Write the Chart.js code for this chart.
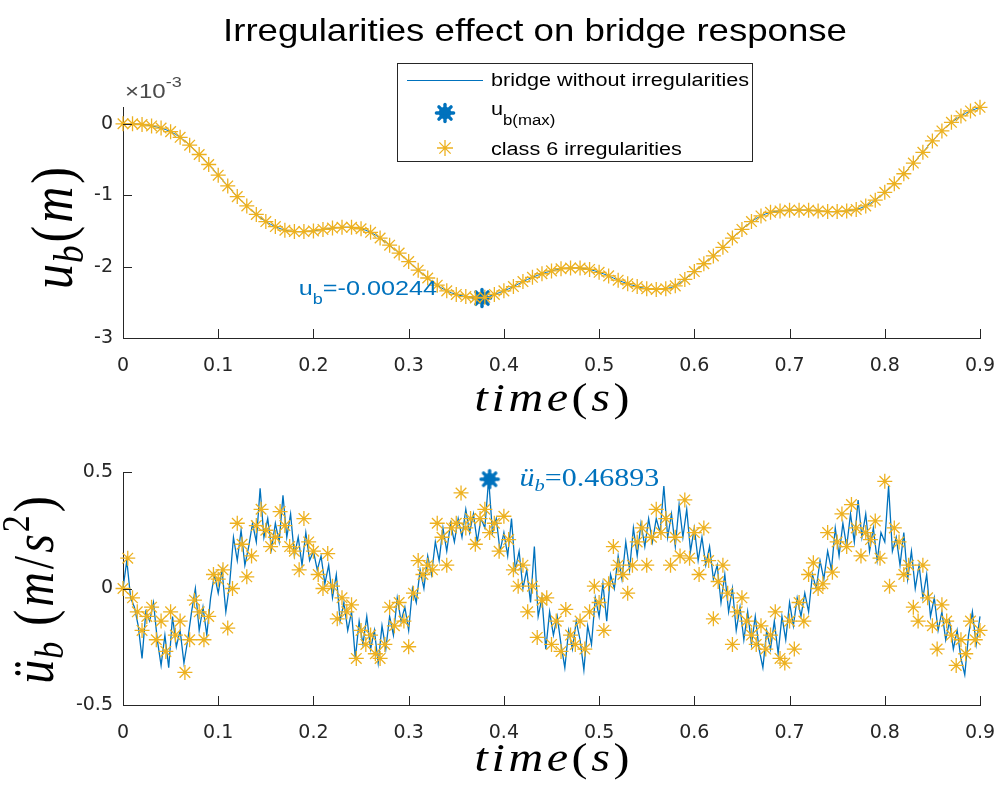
<!DOCTYPE html>
<html><head><meta charset="utf-8">
<script src="https://cdn.jsdelivr.net/npm/chart.js@4.4.0/dist/chart.umd.min.js"></script>
<style>
html,body{margin:0;padding:0;background:#fff;}
#w1{position:absolute;left:0;top:0;width:1005px;height:440px;}
#w2{position:absolute;left:0;top:440px;width:1005px;height:360px;}
</style></head><body>
<div id="w1"><canvas id="c1"></canvas></div>
<div id="w2"><canvas id="c2"></canvas></div>
<script>
// ---------- data ----------
const TOP_TIME_STEP = 0.01;     // s
const BOT_LINE_STEP = 0.004;    // s
const BOT_STAR_STEP = 0.005;    // s
const xTickValues = [0,0.1,0.2,0.3,0.4,0.5,0.6,0.7,0.8,0.9];
const topYTicks = [-3,-2,-1,0];
const botYTicks = [-0.5,0,0.5];

// bridge displacement u_b (x 10^-3 m)
const dispBridge = [
 0,0,-0.01,-0.03,-0.06,-0.11,-0.19,-0.30,-0.43,-0.57,
 -0.72,-0.87,-1.02,-1.15,-1.27,-1.37,-1.44,-1.49,-1.51,-1.51,
 -1.50,-1.48,-1.46,-1.45,-1.45,-1.47,-1.52,-1.60,-1.70,-1.81,
 -1.93,-2.05,-2.16,-2.26,-2.34,-2.39,-2.42,-2.44,-2.43,-2.39,
 -2.34,-2.28,-2.21,-2.15,-2.10,-2.06,-2.03,-2.02,-2.02,-2.04,
 -2.08,-2.13,-2.19,-2.24,-2.28,-2.31,-2.32,-2.31,-2.27,-2.18,
 -2.07,-1.96,-1.85,-1.73,-1.60,-1.48,-1.37,-1.29,-1.24,-1.22,
 -1.21,-1.21,-1.21,-1.22,-1.23,-1.23,-1.22,-1.20,-1.15,-1.07,
 -0.96,-0.84,-0.70,-0.55,-0.40,-0.24,-0.10,0.02,0.11,0.18,
 0.23];
const dispClass6 = [
 0,0,-0.01,-0.03,-0.06,-0.11,-0.19,-0.30,-0.43,-0.57,
 -0.72,-0.87,-1.02,-1.15,-1.27,-1.37,-1.44,-1.49,-1.51,-1.51,
 -1.50,-1.48,-1.46,-1.45,-1.45,-1.47,-1.52,-1.60,-1.70,-1.81,
 -1.93,-2.05,-2.16,-2.26,-2.34,-2.39,-2.42,-2.44,-2.43,-2.39,
 -2.34,-2.28,-2.21,-2.15,-2.10,-2.06,-2.03,-2.02,-2.02,-2.04,
 -2.08,-2.13,-2.19,-2.24,-2.28,-2.31,-2.32,-2.31,-2.27,-2.18,
 -2.07,-1.96,-1.85,-1.73,-1.60,-1.48,-1.37,-1.29,-1.24,-1.22,
 -1.21,-1.21,-1.21,-1.22,-1.23,-1.23,-1.22,-1.20,-1.15,-1.07,
 -0.96,-0.84,-0.70,-0.55,-0.40,-0.24,-0.10,0.02,0.11,0.18,
 0.23];
const ubMaxTime = 0.377;
const ubMaxValue = -2.44;      // x 10^-3 m
const ubMaxLabel = '-0.00244';

// bridge acceleration (m/s^2), without irregularities
const accBridge = [
 0.00,0.12,-0.04,-0.08,-0.16,-0.30,-0.10,-0.14,-0.06,-0.22,-0.33,-0.20,-0.34,-0.12,-0.25,-0.18,-0.32,-0.22,-0.10,0.00,-0.18,-0.08,-0.20,-0.04,0.06,
 -0.02,0.08,-0.10,0.02,0.22,0.12,0.25,0.10,0.18,0.28,0.20,0.43,0.22,0.30,0.17,0.28,0.20,0.40,0.22,0.32,0.14,0.22,0.10,0.24,0.12,
 0.16,0.08,0.14,0.02,0.10,-0.04,0.06,-0.14,-0.06,-0.18,-0.10,-0.30,-0.14,-0.24,-0.12,-0.26,-0.18,-0.32,-0.16,-0.26,-0.12,-0.20,-0.04,-0.14,-0.08,
 -0.18,0.00,-0.06,0.08,0.00,0.14,0.06,0.20,0.12,0.26,0.16,0.28,0.20,0.30,0.22,0.34,0.24,0.32,0.20,0.30,0.26,0.47,0.24,0.30,0.16,
 0.24,0.14,0.30,0.08,0.16,0.00,0.08,-0.06,0.18,-0.12,-0.04,-0.26,-0.10,-0.20,-0.12,-0.24,-0.34,-0.18,-0.26,-0.14,-0.22,-0.35,-0.16,-0.24,-0.04,
 -0.12,0.02,-0.14,0.06,0.00,0.14,0.04,0.20,0.08,0.26,0.14,0.28,0.18,0.30,0.20,0.30,0.24,0.44,0.22,0.32,0.18,0.36,0.22,0.34,0.16,
 0.26,0.12,0.22,0.10,0.18,0.04,0.10,-0.06,0.06,-0.10,0.00,-0.18,-0.08,-0.22,-0.10,-0.24,-0.12,-0.26,-0.34,-0.18,-0.26,-0.14,-0.28,-0.12,-0.22,
 -0.06,-0.16,-0.04,-0.12,-0.02,-0.10,0.06,0.00,0.12,0.04,0.16,0.08,0.26,0.14,0.28,0.18,0.32,0.20,0.38,0.22,0.32,0.16,0.26,0.12,0.24,
 0.20,0.44,0.16,0.22,0.10,0.24,0.04,0.16,0.00,0.10,-0.04,0.06,-0.12,-0.04,-0.18,-0.10,-0.22,-0.14,-0.26,-0.18,-0.30,-0.37,-0.20,-0.10,-0.24,
 -0.12];
// bridge acceleration (m/s^2), class 6 irregularities
const accClass6 = [
 0.00,0.13,-0.04,-0.10,-0.18,-0.12,-0.08,-0.22,-0.14,-0.27,-0.10,-0.20,-0.14,-0.36,-0.22,-0.05,-0.10,-0.22,-0.12,0.06,
 0.04,0.08,-0.17,0.00,0.28,0.19,0.05,0.14,0.27,0.34,0.25,0.18,0.22,0.33,0.27,0.18,0.16,0.08,0.30,0.20,
 0.16,0.06,0.00,0.15,0.01,-0.13,-0.04,-0.10,-0.07,-0.30,-0.18,-0.24,-0.20,-0.28,-0.30,-0.24,-0.08,-0.16,-0.06,-0.14,
 -0.25,-0.02,0.12,0.06,0.10,0.08,0.28,0.22,0.10,0.26,0.28,0.41,0.26,0.30,0.19,0.30,0.34,0.24,0.28,0.16,
 0.31,0.21,0.08,0.01,0.10,-0.10,0.01,-0.21,-0.05,-0.04,-0.24,-0.14,-0.27,-0.09,-0.20,-0.24,-0.14,-0.26,-0.10,0.01,
 -0.06,-0.18,0.02,0.18,0.10,0.06,-0.02,0.10,0.20,0.26,0.10,0.22,0.34,0.24,0.30,0.10,0.22,0.14,0.38,0.13,
 0.24,0.06,0.26,0.12,-0.13,0.03,0.10,-0.02,-0.24,-0.10,-0.04,-0.14,-0.20,-0.24,-0.16,-0.26,-0.20,-0.10,-0.30,-0.32,
 -0.14,-0.26,-0.06,-0.14,0.06,0.11,0.00,0.02,0.24,0.07,0.20,0.32,0.18,0.36,0.26,0.14,0.24,0.21,0.29,0.13,
 0.46,0.01,0.26,0.20,0.06,0.10,-0.08,-0.14,0.10,-0.04,-0.16,-0.26,-0.07,-0.14,-0.20,-0.33,-0.22,-0.28,-0.14,-0.22,
 -0.18];
const accMaxTime = 0.385;
const accMaxValue = 0.46893;
const accMaxLabel = '0.46893';

const legendLabels = ['bridge without irregularities', 'u', 'class 6 irregularities'];
const chartTitle = 'Irregularities effect on bridge response';

// ---------- styles ----------
const BLUE = '#0072BD', ORANGE = '#EDB120', AXIS = '#262626';
const SANS = '"Liberation Sans", Arial, sans-serif';
const SERIF = '"Liberation Serif", "Times New Roman", serif';
const TICKFONT = {family: '"DejaVu Sans", sans-serif', size: 19};
const STRETCH = 1.2;

function pts(step, arr){ return arr.map((v,i)=>({x: Math.round(i*step*10000)/10000, y: v})); }

// filled asterisk marker for maxima
const maxMarker = document.createElement('canvas');
maxMarker.width = 22; maxMarker.height = 22;
(function(){
  const c = maxMarker.getContext('2d');
  c.fillStyle = BLUE; c.strokeStyle = BLUE; c.lineWidth = 3.4; c.lineCap = 'round';
  c.beginPath(); c.arc(11,11,6.2,0,Math.PI*2); c.fill();
  for(let k=0;k<8;k++){const a=k*Math.PI/4; c.beginPath(); c.moveTo(11,11); c.lineTo(11+8.6*Math.cos(a),11+8.6*Math.sin(a)); c.stroke();}
})();

function segWidth(ctx, segs){let w=0;for(const s of segs){ctx.font=s.font;w+=ctx.measureText(s.text).width+(s.gap||0);}return w;}
function drawSegs(ctx, segs, x, y, align){
  const w=segWidth(ctx,segs); let cx= align==='center'?x-w/2:(align==='right'?x-w:x);
  for(const s of segs){ctx.font=s.font; ctx.fillText(s.text,cx,y+(s.dy||0)); cx+=ctx.measureText(s.text).width+(s.gap||0);}
}
function drawStretched(ctx, segs, x, y, align, color){
  ctx.save(); ctx.fillStyle=color; ctx.textBaseline='alphabetic'; ctx.textAlign='left';
  ctx.translate(x,y); ctx.scale(STRETCH,1); drawSegs(ctx,segs,0,0,align); ctx.restore();
}
function drawRotated(ctx, segs, x, y, color){
  ctx.save(); ctx.fillStyle=color; ctx.textBaseline='alphabetic'; ctx.textAlign='left';
  ctx.translate(x,y); ctx.scale(STRETCH,1); ctx.rotate(-Math.PI/2); drawSegs(ctx,segs,0,0,'center'); ctx.restore();
}
function inwardTicks(chart){
  const ctx=chart.ctx, xs=chart.scales.x, ys=chart.scales.y;
  ctx.save(); ctx.strokeStyle=AXIS; ctx.lineWidth=1;
  xs.ticks.forEach(t=>{const p=Math.round(xs.getPixelForValue(t.value))+0.5; ctx.beginPath(); ctx.moveTo(p,ys.bottom); ctx.lineTo(p,ys.bottom-9); ctx.stroke();});
  ys.ticks.forEach(t=>{const p=Math.round(ys.getPixelForValue(t.value))+0.5; ctx.beginPath(); ctx.moveTo(xs.left,p); ctx.lineTo(xs.left+9,p); ctx.stroke();});
  ctx.restore();
}
function timeTitle(ctx, cx, baseline){
  const fi='italic 40px '+SERIF, fr='40px '+SERIF, g=3;
  drawStretched(ctx,[
    {text:'t',font:fi,gap:g},{text:'i',font:fi,gap:g},{text:'m',font:fi,gap:g},{text:'e',font:fi,gap:g},
    {text:'(',font:fr,gap:g},{text:'s',font:fi,gap:g},{text:')',font:fr}], cx, baseline, 'center', '#000');
}

const xScale = (h) => ({
  type:'linear', min:0, max:0.9,
  grid:{display:true, drawOnChartArea:false, drawTicks:true, tickLength:15, tickColor:'rgba(0,0,0,0)'},
  border:{display:true, color:AXIS, width:1},
  ticks:{font:TICKFONT, color:AXIS, padding:2, maxRotation:0, autoSkip:false,
         callback:(v)=>String(Number(Number(v).toFixed(1)))},
  afterBuildTicks:(s)=>{s.ticks = xTickValues.map(v=>({value:v}));},
  afterFit:(s)=>{s.height=h;}
});
const yScale = (min,max,ticks) => ({
  type:'linear', min:min, max:max,
  grid:{display:true, drawOnChartArea:false, drawTicks:false},
  border:{display:true, color:AXIS, width:1},
  ticks:{font:TICKFONT, color:AXIS, padding:10,
         callback:(v)=>String(Number(Number(v).toFixed(1)))},
  afterBuildTicks:(s)=>{s.ticks = ticks.map(v=>({value:v}));},
  afterFit:(s)=>{s.width=123;}
});

// ---------- top chart ----------
const topPlugin = {
  id:'topDecor',
  afterDatasetsDraw(chart){
    const ctx=chart.ctx, xs=chart.scales.x, ys=chart.scales.y;
    inwardTicks(chart);
    // title
    drawStretched(ctx,[{text:chartTitle,font:'30.5px '+SANS}],535,41,'center','#000');
    // exponent label
    drawStretched(ctx,[{text:'\u00d710',font:'20px '+SANS},{text:'-3',font:'15px '+SANS,dy:-11}],125,98,'left','#4a4a4a');
    // y title
    const fi='italic 50px '+SERIF, fr='50px '+SERIF, g=3;
    drawRotated(ctx,[{text:'u',font:fi,gap:1},{text:'b',font:'italic 35px '+SERIF,dy:9,gap:g},
      {text:'(',font:fr,gap:g},{text:'m',font:fi,gap:g},{text:')',font:fr}], 72, 228, '#000');
    timeTitle(ctx, 552, 411);
    // annotation
    const mx=xs.getPixelForValue(ubMaxTime), my=ys.getPixelForValue(ubMaxValue);
    drawStretched(ctx,[{text:'u',font:'21px '+SANS},{text:'b',font:'15px '+SANS,dy:9},{text:'='+ubMaxLabel,font:'21px '+SANS}], mx-45, my-3, 'right', BLUE);
    // legend
    ctx.save();
    ctx.fillStyle='#fff'; ctx.fillRect(397,63,356,99);
    ctx.strokeStyle=AXIS; ctx.lineWidth=1; ctx.strokeRect(397.5,63.5,355,98);
    ctx.strokeStyle=BLUE; ctx.lineWidth=1.2; ctx.beginPath(); ctx.moveTo(407,80.5); ctx.lineTo(483,80.5); ctx.stroke();
    ctx.drawImage(maxMarker, 445-11, 113-11);
    ctx.strokeStyle=ORANGE; ctx.lineWidth=1.3;
    Chart.helpers.drawPoint(ctx,{pointStyle:'star',radius:8,borderWidth:1.3,rotation:0},445,148);
    ctx.restore();
    drawStretched(ctx,[{text:legendLabels[0],font:'18px '+SANS}],491,86,'left','#000');
    drawStretched(ctx,[{text:legendLabels[1],font:'18px '+SANS},{text:'b(max)',font:'14px '+SANS,dy:10}],491,115,'left','#000');
    drawStretched(ctx,[{text:legendLabels[2],font:'18px '+SANS}],491,155,'left','#000');
  }
};

new Chart(document.getElementById('c1'), {
  type:'line',
  data:{datasets:[
    {label:legendLabels[0], data:pts(TOP_TIME_STEP,dispBridge), borderColor:BLUE, borderWidth:1, pointRadius:0, tension:0.3, order:3},
    {label:'u_b(max)', data:[{x:ubMaxTime,y:ubMaxValue}], showLine:false, pointStyle:maxMarker, pointRadius:10, order:2},
    {label:legendLabels[2], data:pts(TOP_TIME_STEP,dispClass6), showLine:false, pointStyle:'star', pointRadius:7.5,
     pointBorderColor:ORANGE, pointBackgroundColor:ORANGE, pointBorderWidth:1.3, order:1}
  ]},
  options:{
    responsive:true, maintainAspectRatio:false, animation:false, clip:false,
    layout:{padding:{left:0,right:25,top:107,bottom:0}},
    plugins:{legend:{display:false}, tooltip:{enabled:false}, title:{display:false, text:chartTitle}},
    scales:{x:xScale(102), y:yScale(-3,0.235,topYTicks)}
  },
  plugins:[topPlugin]
});

// ---------- bottom chart ----------
const botPlugin = {
  id:'botDecor',
  afterDatasetsDraw(chart){
    const ctx=chart.ctx, xs=chart.scales.x, ys=chart.scales.y;
    inwardTicks(chart);
    const fi='italic 48px '+SERIF, fr='48px '+SERIF, g=3;
    drawRotated(ctx,[{text:'\u00fc',font:fi,gap:1},{text:'b',font:'italic 34px '+SERIF,dy:8,gap:16},
      {text:'(',font:fr,gap:g},{text:'m',font:fi,gap:g},{text:'/',font:fr,gap:g},{text:'s',font:fi,gap:2},
      {text:'2',font:'34px '+SERIF,dy:-20,gap:g},{text:')',font:fr}], 53, 150, '#000');
    timeTitle(ctx, 552, 331);
    const mx=xs.getPixelForValue(accMaxTime), my=ys.getPixelForValue(accMaxValue);
    drawStretched(ctx,[{text:'\u00fc',font:'italic 25px '+SERIF},{text:'b',font:'italic 17px '+SERIF,dy:5},
      {text:'='+accMaxLabel,font:'25px '+SERIF}], mx+30, my+7, 'left', BLUE);
  }
};

new Chart(document.getElementById('c2'), {
  type:'line',
  data:{datasets:[
    {label:'bridge without irregularities', data:pts(BOT_LINE_STEP,accBridge), borderColor:BLUE, borderWidth:1.3, pointRadius:0, tension:0, order:3},
    {label:'acc max', data:[{x:accMaxTime,y:accMaxValue}], showLine:false, pointStyle:maxMarker, pointRadius:10, order:2},
    {label:'class 6 irregularities', data:pts(BOT_STAR_STEP,accClass6), showLine:false, pointStyle:'star', pointRadius:7.5,
     pointBorderColor:ORANGE, pointBackgroundColor:ORANGE, pointBorderWidth:1.3, order:1}
  ]},
  options:{
    responsive:true, maintainAspectRatio:false, animation:false, clip:false,
    layout:{padding:{left:0,right:25,top:32,bottom:0}},
    plugins:{legend:{display:false}, tooltip:{enabled:false}},
    scales:{x:xScale(95), y:yScale(-0.5,0.5,botYTicks)}
  },
  plugins:[botPlugin]
});
</script>
</body></html>
